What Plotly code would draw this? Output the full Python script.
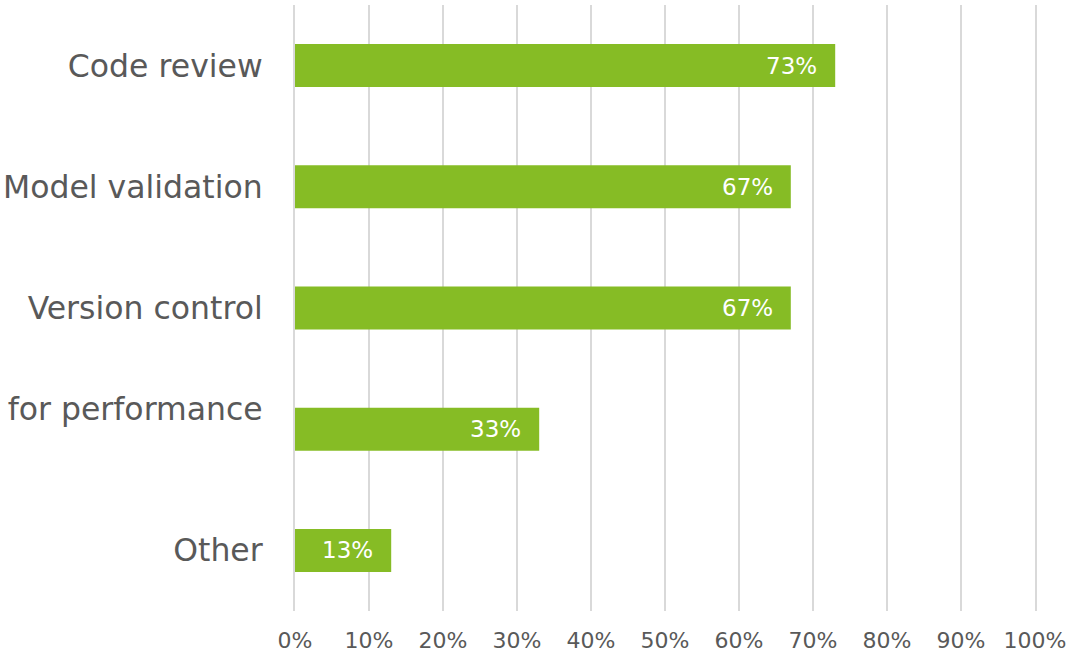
import plotly.graph_objects as go

# Survey results: share of respondents using each practice
categories = ["Code review", "Model validation", "Version control", "for performance", "Other"]
values = [73, 67, 67, 33, 13]
tick_vals = [0, 10, 20, 30, 40, 50, 60, 70, 80, 90, 100]
tick_text = [f"{v}%" for v in tick_vals]

GREEN = "#86BC25"
GREY_TEXT = "#595959"
GRID = "#D9D9D9"
FONT = "DejaVu Sans"

# tick text for the categorical axis (fourth label sits on the upper line)
cat_ticktext = [c if c != "for performance" else "for performance<br>&nbsp;" for c in categories]

fig = go.Figure(
    go.Bar(
        x=values,
        y=categories,
        orientation="h",
        marker=dict(color=GREEN, line=dict(width=0)),
        hoverinfo="skip",
    )
)

# value labels inside the bar ends
for cat, v in zip(categories, values):
    fig.add_annotation(
        x=v, y=cat, text=f"{v}%", showarrow=False,
        xanchor="right", xshift=-16,
        font=dict(family=FONT, size=23, color="white"),
    )

fig.update_layout(
    width=1073, height=654,
    margin=dict(l=295, r=38, t=5, b=43),
    plot_bgcolor="white", paper_bgcolor="white",
    bargap=0.645,
    showlegend=False,
    font=dict(family=FONT, color=GREY_TEXT),
)
fig.update_xaxes(
    range=[0, 100], tickvals=tick_vals, ticktext=tick_text,
    showgrid=True, gridcolor=GRID, gridwidth=2,
    zeroline=False, showline=False,
    tickfont=dict(family=FONT, size=22, color=GREY_TEXT),
    ticks="", ticklabelstandoff=14, automargin=False,
)
fig.update_yaxes(
    categoryorder="array", categoryarray=categories,
    tickvals=categories, ticktext=cat_ticktext,
    autorange="reversed",
    showgrid=False, zeroline=False,
    showline=True, mirror=True, linecolor=GRID, linewidth=2,
    tickfont=dict(family=FONT, size=31.5, color=GREY_TEXT),
    ticks="", ticklabelstandoff=24, automargin=False,
)

fig.write_html("out.html")
